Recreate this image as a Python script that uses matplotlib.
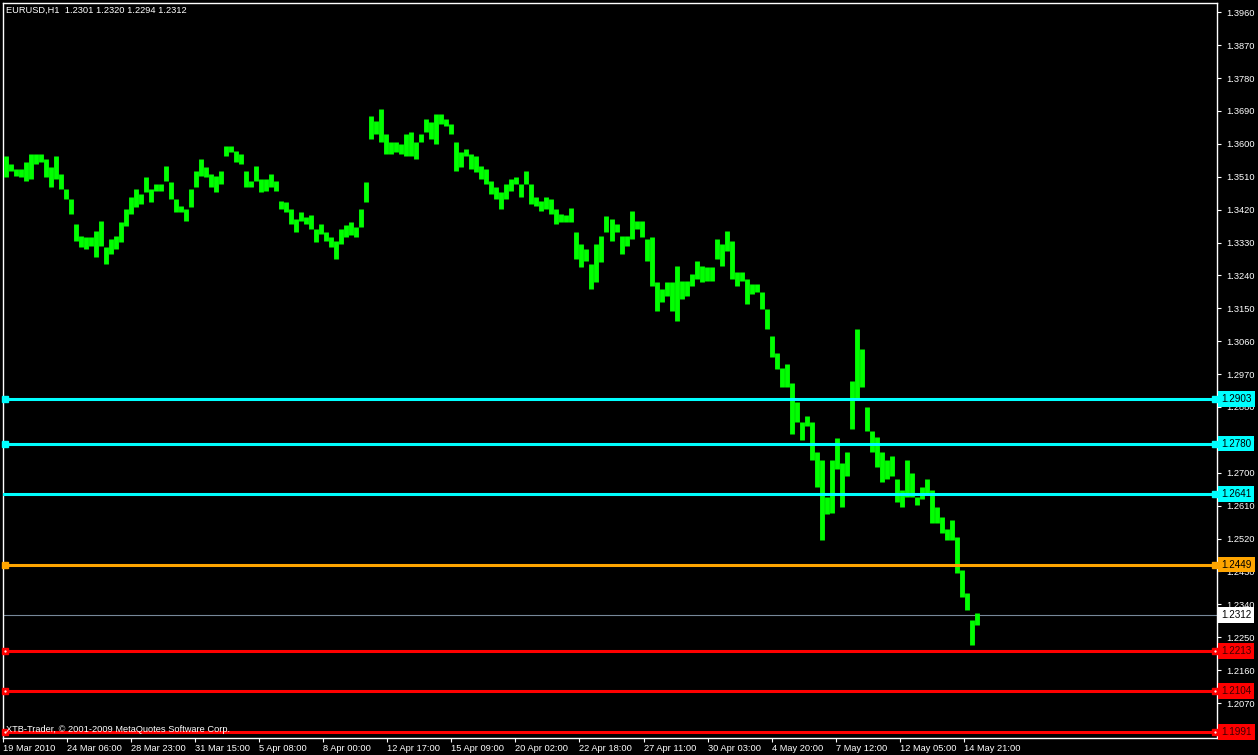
import matplotlib.pyplot as plt
import numpy as np

plt.rcParams['font.family'] = ['Liberation Sans', 'DejaVu Sans']

# EURUSD H1, 19 Mar 2010 - 14 May 2010 (one value per ~5 bars)
highs = [1.3567, 1.3544, 1.3530, 1.3530, 1.3550, 1.3572, 1.3572, 1.3572, 1.3558, 1.3536,
         1.3567, 1.3517, 1.3476, 1.3448, 1.3380, 1.3347, 1.3345, 1.3345, 1.3361, 1.3388,
         1.3317, 1.3339, 1.3347, 1.3385, 1.3421, 1.3454, 1.3476, 1.3462, 1.3508, 1.3476,
         1.3489, 1.3489, 1.3539, 1.3495, 1.3448, 1.3429, 1.3421, 1.3476, 1.3525, 1.3558,
         1.3536, 1.3517, 1.3511, 1.3525, 1.3594, 1.3594, 1.3580, 1.3572, 1.3525, 1.3498,
         1.3539, 1.3503, 1.3503, 1.3517, 1.3498, 1.3443, 1.3440, 1.3421, 1.3394, 1.3413,
         1.3399, 1.3405, 1.3366, 1.3380, 1.3358, 1.3345, 1.3334, 1.3366, 1.3377, 1.3385,
         1.3372, 1.3421, 1.3495, 1.3676, 1.3662, 1.3695, 1.3626, 1.3605, 1.3605, 1.3599,
         1.3626, 1.3632, 1.3605, 1.3626, 1.3668, 1.3660, 1.3681, 1.3681, 1.3668, 1.3654,
         1.3605, 1.3577, 1.3585, 1.3572, 1.3566, 1.3539, 1.3530, 1.3498, 1.3481, 1.3467,
         1.3489, 1.3503, 1.3508, 1.3489, 1.3525, 1.3489, 1.3454, 1.3443, 1.3454, 1.3448,
         1.3421, 1.3407, 1.3405, 1.3424, 1.3358, 1.3325, 1.3311, 1.3270, 1.3325, 1.3347,
         1.3402, 1.3394, 1.3380, 1.3347, 1.3347, 1.3416, 1.3388, 1.3388, 1.3339, 1.3345,
         1.3221, 1.3202, 1.3221, 1.3221, 1.3265, 1.3224, 1.3224, 1.3243, 1.3279, 1.3265,
         1.3262, 1.3262, 1.3339, 1.3325, 1.3361, 1.3334, 1.3248, 1.3248, 1.3229, 1.3216,
         1.3216, 1.3194, 1.3147, 1.3073, 1.3029, 1.2988, 1.2997, 1.2947, 1.2895, 1.2838,
         1.2854, 1.2838, 1.2756, 1.2736, 1.2635, 1.2736, 1.2796, 1.2728, 1.2756, 1.2950,
         1.3093, 1.3038, 1.2881, 1.2813, 1.2799, 1.2756, 1.2736, 1.2745, 1.2682, 1.2654,
         1.2736, 1.2700, 1.2635, 1.2662, 1.2682, 1.2654, 1.2607, 1.2580, 1.2545, 1.2572,
         1.2525, 1.2435, 1.2372, 1.2298, 1.2317]
lows = [1.3508, 1.3525, 1.3511, 1.3508, 1.3498, 1.3503, 1.3544, 1.3550, 1.3508, 1.3481,
        1.3503, 1.3476, 1.3448, 1.3407, 1.3334, 1.3317, 1.3311, 1.3320, 1.3290, 1.3320,
        1.3270, 1.3298, 1.3311, 1.3331, 1.3374, 1.3407, 1.3426, 1.3435, 1.3467, 1.3440,
        1.3470, 1.3470, 1.3498, 1.3448, 1.3413, 1.3413, 1.3388, 1.3426, 1.3481, 1.3511,
        1.3508, 1.3481, 1.3467, 1.3489, 1.3566, 1.3577, 1.3550, 1.3544, 1.3481, 1.3481,
        1.3498, 1.3467, 1.3470, 1.3481, 1.3470, 1.3421, 1.3413, 1.3380, 1.3358, 1.3388,
        1.3380, 1.3366, 1.3331, 1.3353, 1.3334, 1.3317, 1.3284, 1.3325, 1.3345, 1.3350,
        1.3345, 1.3372, 1.3440, 1.3613, 1.3626, 1.3605, 1.3572, 1.3572, 1.3577, 1.3572,
        1.3566, 1.3566, 1.3558, 1.3605, 1.3632, 1.3613, 1.3599, 1.3654, 1.3649, 1.3626,
        1.3525, 1.3536, 1.3566, 1.3530, 1.3522, 1.3503, 1.3489, 1.3462, 1.3448, 1.3421,
        1.3448, 1.3470, 1.3489, 1.3454, 1.3489, 1.3435, 1.3429, 1.3416, 1.3421, 1.3407,
        1.3380, 1.3385, 1.3385, 1.3385, 1.3284, 1.3262, 1.3279, 1.3202, 1.3221, 1.3276,
        1.3358, 1.3334, 1.3358, 1.3298, 1.3320, 1.3339, 1.3366, 1.3345, 1.3279, 1.3210,
        1.3142, 1.3166, 1.3183, 1.3142, 1.3114, 1.3175, 1.3183, 1.3210, 1.3229, 1.3221,
        1.3224, 1.3224, 1.3284, 1.3265, 1.3306, 1.3229, 1.3210, 1.3224, 1.3161, 1.3188,
        1.3194, 1.3147, 1.3093, 1.3018, 1.2983, 1.2936, 1.2936, 1.2805, 1.2840, 1.2791,
        1.2827, 1.2736, 1.2662, 1.2517, 1.2586, 1.2591, 1.2709, 1.2607, 1.2690, 1.2819,
        1.2901, 1.2936, 1.2813, 1.2758, 1.2717, 1.2676, 1.2682, 1.2690, 1.2619, 1.2605,
        1.2635, 1.2635, 1.2613, 1.2627, 1.2646, 1.2563, 1.2563, 1.2536, 1.2517, 1.2517,
        1.2426, 1.2361, 1.2325, 1.2230, 1.2284]

hours_per_bar = 5
time_labels = ['19 Mar 2010', '24 Mar 06:00', '28 Mar 23:00', '31 Mar 15:00', '5 Apr 08:00',
               '8 Apr 00:00', '12 Apr 17:00', '15 Apr 09:00', '20 Apr 02:00', '22 Apr 18:00',
               '27 Apr 11:00', '30 Apr 03:00', '4 May 20:00', '7 May 12:00', '12 May 05:00',
               '14 May 21:00']
label_step = 64  # hours between time labels

price_ticks = [1.3960, 1.3870, 1.3780, 1.3690, 1.3600, 1.3510, 1.3420, 1.3330, 1.3240,
               1.3150, 1.3060, 1.2970, 1.2880, 1.2790, 1.2700, 1.2610, 1.2520, 1.2430,
               1.2340, 1.2250, 1.2160, 1.2070, 1.1980]

level_prices = [1.2903, 1.2780, 1.2641, 1.2449, 1.2213, 1.2104, 1.1991]
level_colors = ['#00ffff', '#00ffff', '#00ffff', '#ffa500', '#ff0000', '#ff0000', '#ff0000']
level_left_mark = [True, True, False, True, True, True, True]
bid = 1.2312

fs = 6.7

fig = plt.figure(figsize=(12.58, 7.55), dpi=100, facecolor='black')
ax = fig.add_axes([3 / 1258, 1 - 738 / 755, 1214 / 1258, 735 / 755])
ax.set_facecolor('black')

n = len(highs)
bar_x = np.arange(n) * hours_per_bar + 3
ax.vlines(bar_x, lows, highs, colors='#00ff00', linewidth=3.5, capstyle='butt', zorder=3)

xmax = 1213
ax.set_xlim(0, xmax)
ax.set_ylim(1.19743, 1.39854)

# horizontal levels
for p, c, lm in zip(level_prices, level_colors, level_left_mark):
    ax.axhline(p, color=c, linewidth=2.2, zorder=4)
    xs = [xmax - 2]
    if lm:
        xs = [2] + xs
    ax.plot(xs, [p] * len(xs), 's', color=c, markersize=4.5, zorder=5, clip_on=False)
    if c == '#ff0000':
        ax.plot(xs, [p] * len(xs), '.', color='white', markersize=1.2, zorder=6, clip_on=False)
    txt = '#400000' if c == '#ff0000' else 'black'
    ax.text(1.0035, p, '%.4f' % p, transform=ax.get_yaxis_transform(), color=txt,
            fontsize=fs + 0.4, va='center', ha='left', zorder=7, clip_on=False,
            bbox=dict(boxstyle='square,pad=0.3', facecolor=c, edgecolor='none'))

ax.axhline(bid, color='#778899', linewidth=0.8, zorder=2)
ax.text(1.0035, bid, '%.4f' % bid, transform=ax.get_yaxis_transform(), color='black',
        fontsize=fs + 0.4, va='center', ha='left', zorder=7, clip_on=False,
        bbox=dict(boxstyle='square,pad=0.3', facecolor='white', edgecolor='none'))

for s in ax.spines.values():
    s.set_color('white')
    s.set_linewidth(1)

ax.yaxis.tick_right()
ax.set_yticks(price_ticks)
ax.set_yticklabels(['%.4f' % t for t in price_ticks])
ax.tick_params(axis='y', colors='white', labelsize=fs, length=3, width=0.8, pad=4)

ax.set_xticks(np.arange(len(time_labels)) * label_step)
ax.set_xticklabels(time_labels)
ax.tick_params(axis='x', colors='white', labelsize=fs, length=3, width=0.8, pad=1.5)
for lab in ax.get_xticklabels():
    lab.set_ha('left')

fig.text(6 / 1258, 1 - 10 / 755, 'EURUSD,H1  1.2301 1.2320 1.2294 1.2312', color='white',
         fontsize=fs, va='center', ha='left')
fig.text(6 / 1258, 1 - 729 / 755, 'XTB-Trader, \u00a9 2001-2009 MetaQuotes Software Corp.',
         color='white', fontsize=fs, va='center', ha='left', zorder=10)

fig.savefig('out.png', dpi=100, facecolor='black')
